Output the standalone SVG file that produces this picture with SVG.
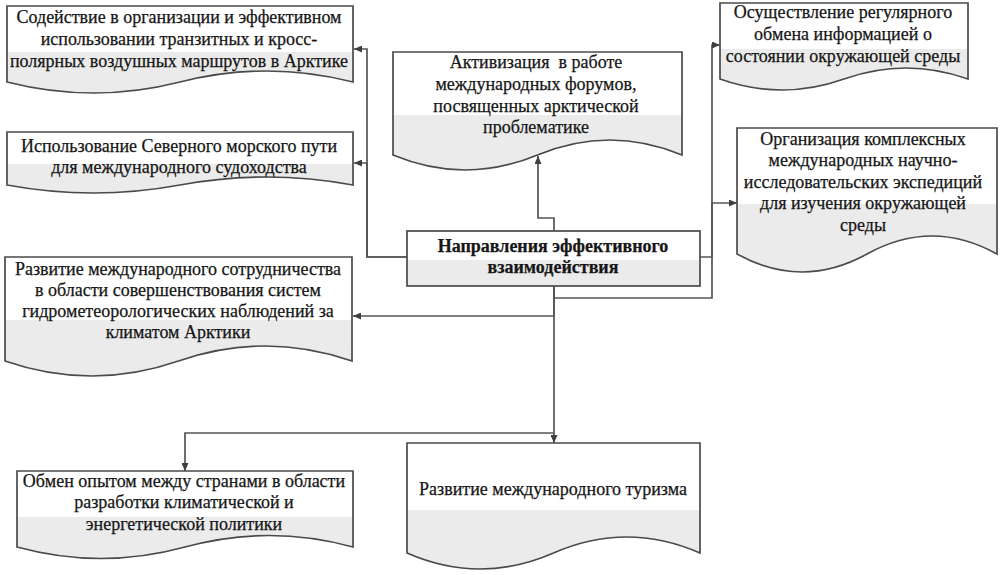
<svg xmlns="http://www.w3.org/2000/svg" width="1004" height="575" viewBox="0 0 1004 575">
<style>
.box{stroke:#4a4a4a;stroke-width:1.7;fill:url(#g)}
.t{font-family:'Liberation Serif','Times New Roman',serif;font-size:18px;fill:#161616;stroke:#161616;stroke-width:0.25;text-anchor:middle}
.b{font-weight:bold}
.c{fill:none;stroke:#555555;stroke-width:1.7}
</style>
<defs>
<linearGradient id="g" x1="0" y1="0" x2="0" y2="1">
<stop offset="0" stop-color="#ffffff"/><stop offset="0.53" stop-color="#ffffff"/>
<stop offset="0.53" stop-color="#ebebeb"/><stop offset="1" stop-color="#ebebeb"/>
</linearGradient>
<marker id="a" markerWidth="9" markerHeight="7" refX="8" refY="3.5" orient="auto" markerUnits="userSpaceOnUse">
<path d="M0,0 L8,3.5 L0,7 z" fill="#3f3f3f"/>
</marker>
</defs>
<rect width="1004" height="575" fill="#ffffff"/>

<g id="connectors">
<path class="c" d="M407,257 H367 V49 H354" marker-end="url(#a)"/>
<path class="c" d="M407,257 H367 V163 H354" marker-end="url(#a)"/>
<path class="c" d="M554,231 V218 H538 V156" marker-end="url(#a)"/>
<path class="c" d="M700,257 H712 V45 H720" marker-end="url(#a)"/>
<path class="c" d="M554,286 V298 H712 V203 H737" marker-end="url(#a)"/>
<path class="c" d="M554,286 V316 H353" marker-end="url(#a)"/>
<path class="c" d="M554,286 V443" marker-end="url(#a)"/>
<path class="c" d="M554,433 H185 V471" marker-end="url(#a)"/>
</g>

<g id="n1">
<path class="box" d="M7,6 H353 V82 Q266.5,60 180,82 T7,82 Z"/>
<text class="t" x="179" y="23">Содействие в организации и эффективном</text>
<text class="t" x="179" y="45">использовании транзитных и кросс-</text>
<text class="t" x="179" y="67">полярных воздушных маршрутов в Арктике</text>
</g>

<g id="n2">
<path class="box" d="M7,132 H353 V185 Q266.5,169 180,185 T7,185 Z"/>
<text class="t" x="179" y="152">Использование Северного морского пути</text>
<text class="t" x="179" y="173">для международного судоходства</text>
</g>

<g id="n3">
<path class="box" d="M393,52 H682 V155 Q609.75,125 537.5,155 T393,155 Z"/>
<text class="t" x="536" y="68" xml:space="preserve">Активизация  в работе</text>
<text class="t" x="536" y="90">международных форумов,</text>
<text class="t" x="536" y="112">посвященных арктической</text>
<text class="t" x="536" y="133">проблематике</text>
</g>

<g id="n4">
<path class="box" d="M5,257 H352 V361 Q265.25,331 178.5,361 T5,361 Z"/>
<text class="t" x="178" y="275">Развитие международного сотрудничества</text>
<text class="t" x="178" y="296">в области совершенствования систем</text>
<text class="t" x="178" y="317">гидрометеорологических наблюдений за</text>
<text class="t" x="178" y="338">климатом Арктики</text>
</g>

<g id="n5">
<path class="box" d="M720,3 H968 V79 Q906,57 844,79 T720,79 Z"/>
<text class="t" x="843" y="18">Осуществление регулярного</text>
<text class="t" x="843" y="40">обмена информацией о</text>
<text class="t" x="843" y="62">состоянии окружающей среды</text>
</g>

<g id="n6">
<path class="box" d="M737,128 H997 V254 Q932,218 867,254 T737,254 Z"/>
<text class="t" x="863" y="145">Организация комплексных</text>
<text class="t" x="863" y="166">международных научно-</text>
<text class="t" x="863" y="188">исследовательских экспедиций</text>
<text class="t" x="863" y="209">для изучения окружающей</text>
<text class="t" x="863" y="231">среды</text>
</g>

<g id="n0">
<rect class="box" x="407" y="231" width="293" height="55"/>
<text class="t b" x="553" y="252">Направления эффективного</text>
<text class="t b" x="553" y="273">взаимодействия</text>
</g>

<g id="n7">
<path class="box" d="M17,471 H353 V547 Q269,524 185,547 T17,547 Z"/>
<text class="t" x="184" y="487">Обмен опытом между странами в области</text>
<text class="t" x="184" y="508">разработки климатической и</text>
<text class="t" x="184" y="530">энергетической политики</text>
</g>

<g id="n8">
<path class="box" d="M407,443 H700 V553 Q626.75,521 553.5,553 T407,553 Z"/>
<text class="t" x="553" y="495">Развитие международного туризма</text>
</g>
</svg>
